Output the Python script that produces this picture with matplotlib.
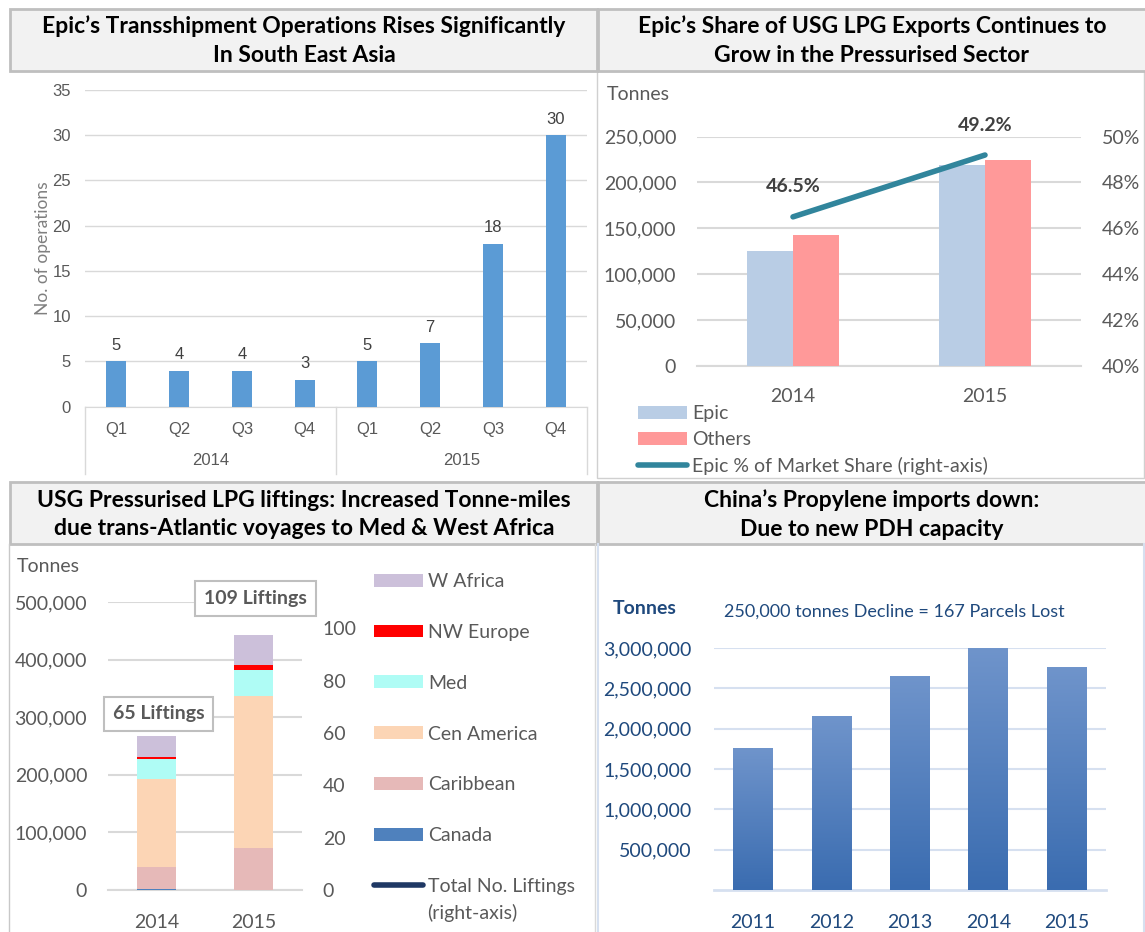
import numpy as np
import matplotlib
matplotlib.use('Agg')
import matplotlib.pyplot as plt
import matplotlib.patches as mpatches
from matplotlib.lines import Line2D
from matplotlib.colors import LinearSegmentedColormap
from matplotlib.ticker import FuncFormatter

plt.rcParams['font.family'] = ['Lato', 'DejaVu Sans']
NARROW = ['Liberation Sans Narrow', 'Liberation Sans', 'DejaVu Sans']

# --- data ---
# top left: transhipment operations
quarters = ['Q1', 'Q2', 'Q3', 'Q4', 'Q1', 'Q2', 'Q3', 'Q4']
quarter_years = ['2014', '2015']
operations = [5, 4, 4, 3, 5, 7, 18, 30]

# top right: USG pressurised exports
share_years = ['2014', '2015']
epic_tonnes = [125000, 219000]
others_tonnes = [143000, 225000]
epic_share = [46.5, 49.2]

# bottom left: USG liftings by destination
lift_years = ['2014', '2015']
canada = [1500, 0]
caribbean = [39000, 73000]
cen_america = [152000, 263000]
med = [35000, 46000]
nw_europe = [3000, 9000]
w_africa = [36000, 52000]
liftings = [65, 109]

# bottom right: China propylene imports
china_years = ['2011', '2012', '2013', '2014', '2015']
china_imports = [1750000, 2150000, 2650000, 3000000, 2760000]

W, H = 1145, 932
fig = plt.figure(figsize=(W / 100, H / 100), dpi=100)


def fax(x0, y0, x1, y1):
    return fig.add_axes([x0 / W, 1 - y1 / H, (x1 - x0) / W, (y1 - y0) / H])


def frect(x0, y0, x1, y1, **kw):
    fig.patches.append(mpatches.Rectangle((x0 / W, 1 - y1 / H), (x1 - x0) / W, (y1 - y0) / H,
                                          transform=fig.transFigure, **kw))


def fline(xs, ys, **kw):
    fig.add_artist(Line2D([x / W for x in xs], [1 - y / H for y in ys], transform=fig.transFigure, **kw))


def ftext(x, y, s, **kw):
    fig.text(x / W, 1 - y / H, s, **kw)


comma = FuncFormatter(lambda v, p: '{:,.0f}'.format(v))

# frames and title boxes
frect(597, 71, 1144, 478, fc='none', ec='#d0d0d0', lw=1)
fline([9, 9], [544, 932], color='#c8c8c8', lw=1)
fline([595, 595], [544, 932], color='#d9d9d9', lw=1)
fline([598, 598], [544, 932], color='#d6e0f0', lw=1.5)
fline([1144, 1144], [544, 932], color='#d6e0f0', lw=1.5)
for (x0, y0, x1, y1) in [(10, 9, 597, 71), (598, 9, 1146, 71), (10, 482, 597, 544), (598, 482, 1146, 544)]:
    frect(x0, y0, x1, y1, fc='#f2f2f2', ec='#bfbfbf', lw=2)

titles = [
    (304, 40.5, 'Epic’s Transshipment Operations Rises Significantly\nIn South East Asia'),
    (872, 40.5, 'Epic’s Share of USG LPG Exports Continues to\nGrow in the Pressurised Sector'),
    (304, 514.5, 'USG Pressurised LPG liftings: Increased Tonne-miles\ndue trans-Atlantic voyages to Med & West Africa'),
    (872, 514.5, 'China’s Propylene imports down:\nDue to new PDH capacity'),
]
for tx, ty, t in titles:
    ftext(tx, ty, t, ha='center', va='center', fontsize=16.5, fontweight='bold', color='black',
          linespacing=1.45)

# ---------- panel 1 ----------
ax1 = fax(85, 90, 587, 406.7)
x1 = np.arange(len(operations))
b1 = ax1.bar(x1, operations, width=0.32, color='#5b9bd5', zorder=3)
ax1.bar_label(b1, padding=6, fontsize=12, color='#404040', family=NARROW)
ax1.set_xlim(-0.5, len(operations) - 0.5)
ax1.set_ylim(0, 35)
ax1.set_yticks(range(0, 36, 5))
ax1.grid(axis='y', color='#d9d9d9', lw=1)
ax1.set_axisbelow(True)
for s in ['top', 'right', 'left']:
    ax1.spines[s].set_visible(False)
ax1.spines['bottom'].set_color('#d9d9d9')
ax1.set_xticks(x1, quarters)
ax1.tick_params(axis='x', length=0, pad=11, labelsize=12, labelcolor='#595959')
ax1.tick_params(axis='y', length=0, pad=10, labelsize=12, labelcolor='#595959')
for lab in ax1.get_xticklabels() + ax1.get_yticklabels():
    lab.set_family(NARROW)
trans = ax1.get_xaxis_transform()
for i, yr in enumerate(quarter_years):
    ax1.text(i * 4 + 1.5, -0.171, yr, transform=trans, ha='center', va='center', fontsize=12,
             color='#595959', family=NARROW)
for xx in [-0.5, 3.5, 7.5]:
    ax1.plot([xx, xx], [0, -0.212], transform=trans, clip_on=False, color='#d9d9d9', lw=1)
ftext(43, 248, 'No. of operations', rotation=90, ha='center', va='center', fontsize=12.5, color='#7f7f7f')

# ---------- panel 2 ----------
ax2 = fax(697, 136.7, 1081, 365.7)
x2 = np.arange(len(share_years))
be = ax2.bar(x2 - 0.12, epic_tonnes, width=0.24, color='#b9cde5', zorder=3, label='Epic')
bo = ax2.bar(x2 + 0.12, others_tonnes, width=0.24, color='#ff9999', zorder=3, label='Others')
ax2.set_xlim(-0.5, 1.5)
ax2.set_ylim(0, 250000)
ax2.set_yticks(range(0, 250001, 50000))
ax2.yaxis.set_major_formatter(comma)
ax2.grid(axis='y', color='#d9d9d9', lw=1.5)
ax2.set_axisbelow(True)
for s in ['top', 'right', 'left']:
    ax2.spines[s].set_visible(False)
ax2.spines['bottom'].set_color('#d9d9d9')
ax2.spines['bottom'].set_linewidth(1.5)
ax2.set_xticks(x2, share_years)
ax2.tick_params(axis='x', length=0, pad=16, labelsize=14, labelcolor='#595959')
ax2.tick_params(axis='y', length=0, pad=15, labelsize=14, labelcolor='#595959')
ax2b = ax2.twinx()
ax2b.set_ylim(0.40, 0.50)
ax2b.set_yticks(np.arange(0.40, 0.501, 0.02))
ax2b.yaxis.set_major_formatter(FuncFormatter(lambda v, p: '{:.0f}%'.format(v * 100)))
ax2b.tick_params(axis='y', length=0, pad=15, labelsize=14, labelcolor='#595959')
for s in ax2b.spines.values():
    s.set_visible(False)
share_frac = [v / 100 for v in epic_share]
ln, = ax2b.plot(x2, share_frac, color='#31859c', lw=4, solid_capstyle='round',
                label='Epic % of Market Share (right-axis)')
for xi, v in zip(x2, epic_share):
    ax2b.annotate('{:.1f}%'.format(v), (xi, v / 100), xytext=(0, 30), textcoords='offset pixels',
                  ha='center', va='center', fontsize=14, fontweight='bold', color='#404040')
ftext(607, 95, 'Tonnes', ha='left', va='center', fontsize=14, color='#595959')
ax2.legend(handles=[be, bo, ln], loc='upper left', bbox_to_anchor=(638 / W, 1 - 405 / H),
           bbox_transform=fig.transFigure, frameon=False, fontsize=14, handlelength=2.5,
           handleheight=0.67, handletextpad=0.3, labelspacing=0.46, borderpad=0, borderaxespad=0,
           labelcolor='#595959')

# ---------- panel 3 ----------
ax3 = fax(108, 602, 302, 890)
x3 = np.arange(len(lift_years))
series = [('Canada', canada, '#4f81bd'), ('Caribbean', caribbean, '#e6b9b8'),
          ('Cen America', cen_america, '#fcd5b5'), ('Med', med, '#affcf5'),
          ('NW Europe', nw_europe, '#ff0000'), ('W Africa', w_africa, '#ccc0da')]
bottom = np.zeros(len(lift_years))
handles = []
for name, vals, col in series:
    h = ax3.bar(x3, vals, bottom=bottom, width=0.40, color=col, zorder=3, label=name)
    handles.append(h)
    bottom += np.array(vals)
ax3.set_xlim(-0.5, 1.5)
ax3.set_ylim(0, 500000)
ax3.set_yticks(range(0, 500001, 100000))
ax3.yaxis.set_major_formatter(comma)
ax3.grid(axis='y', color='#d9d9d9', lw=1.5)
ax3.set_axisbelow(True)
for s in ['top', 'right', 'left']:
    ax3.spines[s].set_visible(False)
ax3.spines['bottom'].set_color('#d9d9d9')
ax3.spines['bottom'].set_linewidth(1.5)
ax3.set_xticks(x3, lift_years)
ax3.tick_params(axis='x', length=0, pad=17, labelsize=14, labelcolor='#595959')
ax3.tick_params(axis='y', length=0, pad=15, labelsize=14, labelcolor='#595959')
ax3b = ax3.twinx()
ax3b.set_ylim(0, 110)
ax3b.set_yticks(range(0, 101, 20))
ax3b.tick_params(axis='y', length=0, pad=15, labelsize=14, labelcolor='#595959')
for s in ax3b.spines.values():
    s.set_visible(False)
ax3b.plot(x3, liftings, lw=0)
for xi, n in zip(x3, liftings):
    ax3b.annotate('{} Liftings'.format(n), (xi, n), xytext=(2, 6), textcoords='offset pixels',
                  ha='center', va='center', fontsize=14, fontweight='bold', color='#595959', zorder=5,
                  bbox=dict(boxstyle='square,pad=0.45', fc='white', ec='#bfbfbf', lw=1.5))
ftext(17, 567, 'Tonnes', ha='left', va='center', fontsize=14, color='#595959')
tot = Line2D([], [], color='#1f3864', lw=4, solid_capstyle='round')
ax3.legend(handles=handles[::-1] + [tot],
           labels=[s[0] for s in series[::-1]] + ['Total No. Liftings'],
           loc='upper left', bbox_to_anchor=(374 / W, 1 - 573 / H), bbox_transform=fig.transFigure,
           frameon=False, fontsize=14, handlelength=2.5, handleheight=0.65, handletextpad=0.3,
           labelspacing=1.74, borderpad=0, borderaxespad=0, labelcolor='#595959')
ftext(427, 913, '(right-axis)', ha='left', va='center', fontsize=14, color='#595959')

# ---------- panel 4 ----------
ax4 = fax(714, 648, 1106, 890)
x4 = np.arange(len(china_years))
b4 = ax4.bar(x4, china_imports, width=0.51, color='none', zorder=3)
grad = LinearSegmentedColormap.from_list('g', ['#3a6cb0', '#6f94cb'])
for p in b4:
    ax4.imshow(np.linspace(0, 1, 200).reshape(-1, 1), extent=[p.get_x(), p.get_x() + p.get_width(), 0, p.get_height()],
               origin='lower', cmap=grad, aspect='auto', zorder=3)
ax4.set_xlim(-0.5, len(china_years) - 0.5)
ax4.set_ylim(0, 3000000)
ax4.set_yticks(range(500000, 3000001, 500000))
ax4.yaxis.set_major_formatter(comma)
ax4.grid(axis='y', color='#d6e0f0', lw=1.5)
ax4.set_axisbelow(True)
for s in ['top', 'right', 'left']:
    ax4.spines[s].set_visible(False)
ax4.spines['bottom'].set_color('#d6e0f0')
ax4.spines['bottom'].set_linewidth(2)
ax4.set_xticks(x4, china_years)
ax4.tick_params(axis='x', length=0, pad=17, labelsize=14, labelcolor='#1f497d')
ax4.tick_params(axis='y', length=0, pad=16, labelsize=14, labelcolor='#1f497d')
ftext(613, 608, 'Tonnes', ha='left', va='center', fontsize=14, fontweight='bold', color='#1f497d')
ftext(724, 612, '250,000 tonnes Decline = 167 Parcels Lost', ha='left', va='center', fontsize=13,
      color='#1f497d')

fig.savefig('out.png', dpi=100)
